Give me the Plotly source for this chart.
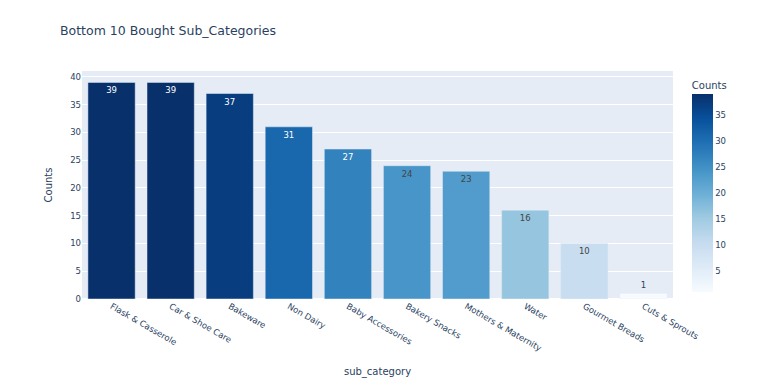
import plotly.express as px
import pandas as pd

sub_categories = ["Flask & Casserole", "Car & Shoe Care", "Bakeware", "Non Dairy",
                  "Baby Accessories", "Bakery Snacks", "Mothers & Maternity", "Water",
                  "Gourmet Breads", "Cuts & Sprouts"]
counts = [39, 39, 37, 31, 27, 24, 23, 16, 10, 1]

df = pd.DataFrame({"sub_category": sub_categories, "Counts": counts})

FONT = "DejaVu Sans, Verdana, sans-serif"

fig = px.bar(df, x="sub_category", y="Counts", color="Counts", text="Counts",
             color_continuous_scale="Blues", title="Bottom 10 Bought Sub_Categories")
fig.update_traces(textfont_size=8.5)
fig.update_layout(
    width=759, height=372,
    margin=dict(l=74, r=94, t=63, b=81),
    font=dict(family=FONT, size=8.5),
    title=dict(font=dict(size=12.5), x=0.0685, xanchor="left", y=0.938, yanchor="middle"),
    xaxis=dict(tickangle=30, title_font_size=10, automargin=False),
    yaxis=dict(dtick=5, title_font_size=10, automargin=False),
    coloraxis_colorbar=dict(thickness=21, ypad=7, xpad=7, dtick=5,
                            title_font_size=10, tickfont_size=8.5),
)
fig.write_html("out.html")
